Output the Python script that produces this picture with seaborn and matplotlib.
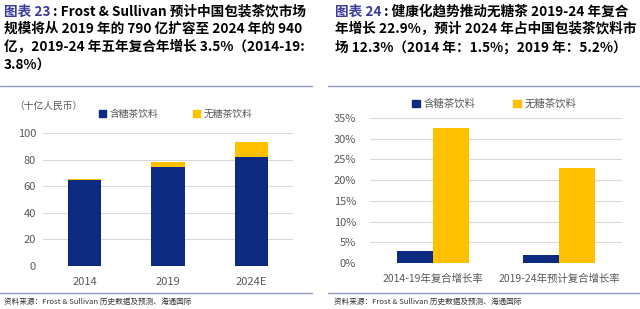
import pandas as pd
import matplotlib
matplotlib.use("Agg")
import matplotlib.pyplot as plt
import seaborn as sns
from matplotlib.patches import Patch
from matplotlib.lines import Line2D

# 数据
years = ["2014", "2019", "2024E"]
sugar_size = [64.5, 74.5, 82.0]       # 含糖茶饮料 (十亿人民币)
nosugar_size = [0.8, 4.0, 11.5]       # 无糖茶饮料

periods = ["2014-19年复合增长率", "2019-24年预计复合增长率"]
sugar_cagr = [0.029, 0.019]
nosugar_cagr = [0.325, 0.229]

series = ["含糖茶饮料", "无糖茶饮料"]
NAVY = "#0B2A80"
GOLD = "#FFC000"
TICK = "#595959"
GRID = "#D9D9D9"
RULE = "#8E9BB8"

sns.set_theme(style="white")
plt.rcParams["font.family"] = ["Noto Sans CJK SC", "DejaVu Sans"]

W, H = 640, 309
fig = plt.figure(figsize=(6.4, 3.09), dpi=100)

def fx(px):
    return px / W

def fy(py):
    return 1 - py / H

# 标题
title_kw = dict(fontsize=9.8, fontweight="bold", va="center", ha="left")
fig.text(fx(4), fy(12), "图表 23", color="#3B3B9A", **title_kw)
fig.text(fx(53), fy(12), ": Frost & Sullivan 预计中国包装茶饮市场", color="black", **title_kw)
fig.text(fx(4), fy(22), "规模将从 2019 年的 790 亿扩容至 2024 年的 940\n亿，2019-24 年五年复合年增长 3.5%（2014-19:\n3.8%）",
         color="black", linespacing=1.4, **{**title_kw, "va": "top"})

fig.text(fx(335), fy(12), "图表 24", color="#3B3B9A", **title_kw)
fig.text(fx(384), fy(12), ": 健康化趋势推动无糖茶 2019-24 年复合", color="black", **title_kw)
fig.text(fx(335), fy(22), "年增长 22.9%，预计 2024 年占中国包装茶饮料市\n场 12.3%（2014 年：1.5%；2019 年：5.2%）",
         color="black", linespacing=1.4, **{**title_kw, "va": "top"})

# 分隔线
for x0, x1 in [(0, 312), (328, 640)]:
    for yy in (86, 293):
        fig.add_artist(Line2D([fx(x0), fx(x1)], [fy(yy), fy(yy)], color=RULE, lw=1.0))

src_kw = dict(fontsize=5.5, color="#333333", va="center", ha="left")
fig.text(fx(4), fy(302), "资料来源：Frost & Sullivan 历史数据及预测、海通国际", **src_kw)
fig.text(fx(334), fy(302), "资料来源：Frost & Sullivan 历史数据及预测、海通国际", **src_kw)

# 左图：堆叠柱状
df_left = pd.DataFrame({"year": years, "sugar": sugar_size, "nosugar": nosugar_size})
df_left["total"] = df_left["sugar"] + df_left["nosugar"]

ax1 = fig.add_axes([fx(43), fy(266), fx(250), (266 - 133) / H])
sns.barplot(data=df_left, x="year", y="total", color=GOLD, saturation=1, width=0.4,
            linewidth=0, ax=ax1)
sns.barplot(data=df_left, x="year", y="sugar", color=NAVY, saturation=1, width=0.4,
            linewidth=0, ax=ax1)
ax1.set_xlim(-0.5, 2.5)
ax1.set_ylim(0, 100)
ax1.set_yticks(range(0, 101, 20))
ax1.set_xlabel("")
ax1.set_ylabel("")
ax1.yaxis.grid(True, color=GRID, lw=0.8)
ax1.set_axisbelow(True)
for s in ax1.spines.values():
    s.set_visible(False)
ax1.tick_params(axis="both", length=0, labelsize=8, labelcolor=TICK)
ax1.tick_params(axis="y", pad=5)
ax1.tick_params(axis="x", pad=8)
fig.text(fx(14), fy(106), "（十亿人民币）", fontsize=7, color=TICK, va="center", ha="left")

handles = [Patch(color=NAVY), Patch(color=GOLD)]
ax1.legend(handles, series, loc="center left", bbox_to_anchor=(fx(90), fy(114)),
           bbox_transform=fig.transFigure, ncol=2, frameon=False, fontsize=7,
           handlelength=0.7, handleheight=0.7, handletextpad=0.4, columnspacing=3.6,
           labelcolor=TICK)

# 右图：分组柱状
df_right = pd.DataFrame({
    "period": periods * 2,
    "type": [series[0]] * 2 + [series[1]] * 2,
    "cagr": sugar_cagr + nosugar_cagr,
})
ax2 = fig.add_axes([fx(370), fy(263), fx(252), (263 - 118) / H])
sns.barplot(data=df_right, x="period", y="cagr", hue="type", hue_order=series,
            palette=[NAVY, GOLD], saturation=1, width=0.57, linewidth=0, ax=ax2)
ax2.set_xlim(-0.5, 1.5)
ax2.set_ylim(0, 0.35)
ax2.set_yticks([i * 0.05 for i in range(8)])
ax2.set_yticklabels([f"{i * 5}%" for i in range(8)])
ax2.set_xlabel("")
ax2.set_ylabel("")
ax2.yaxis.grid(True, color=GRID, lw=0.8)
ax2.set_axisbelow(True)
for s in ax2.spines.values():
    s.set_visible(False)
ax2.tick_params(axis="both", length=0, labelsize=8, labelcolor=TICK)
ax2.tick_params(axis="x", labelsize=7.5)
ax2.tick_params(axis="y", pad=10)
ax2.tick_params(axis="x", pad=8)
ax2.legend(handles, series, loc="center left", bbox_to_anchor=(fx(403), fy(104)),
           bbox_transform=fig.transFigure, ncol=2, frameon=False, fontsize=7.5,
           handlelength=0.7, handleheight=0.7, handletextpad=0.4, columnspacing=3.6,
           labelcolor=TICK)

fig.savefig("out.png", dpi=100)
